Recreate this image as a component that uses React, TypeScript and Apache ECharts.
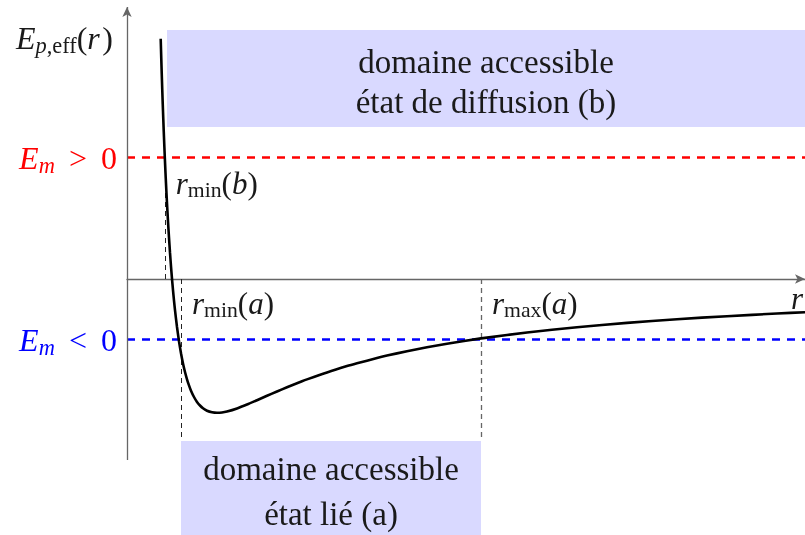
import React, { useEffect, useRef } from "react";
import * as echarts from "echarts";

// Potential curve E_p,eff(r) (r, E)
const curveR = [0.337, 0.34, 0.345, 0.35, 0.355, 0.36, 0.365, 0.37, 0.378, 0.385, 0.39, 0.4, 0.41, 0.42, 0.43, 0.44, 0.45, 0.46, 0.47, 0.48, 0.5, 0.52, 0.54, 0.56, 0.58, 0.6, 0.62, 0.64, 0.67, 0.7, 0.73, 0.76, 0.8, 0.85, 0.9, 0.95, 1.0, 1.1, 1.2, 1.3, 1.4, 1.5, 1.6, 1.75, 1.8, 2.0, 2.2, 2.3, 2.5, 2.6, 2.8, 3.0, 3.2, 3.54, 3.6, 4.0, 4.5, 5.0, 5.5, 6.0, 6.5, 6.78];
const curveE = [2.403, 2.298, 2.13, 1.971, 1.82, 1.678, 1.541, 1.412, 1.218, 1.06, 0.954, 0.756, 0.577, 0.413, 0.263, 0.127, 0.002, -0.111, -0.216, -0.312, -0.48, -0.622, -0.742, -0.844, -0.93, -1.003, -1.064, -1.117, -1.18, -1.229, -1.265, -1.293, -1.317, -1.333, -1.338, -1.335, -1.325, -1.294, -1.255, -1.212, -1.168, -1.125, -1.083, -1.023, -1.004, -0.934, -0.871, -0.843, -0.79, -0.766, -0.722, -0.683, -0.647, -0.594, -0.586, -0.535, -0.482, -0.439, -0.402, -0.372, -0.345, -0.332];

// Energy levels
const energyLevels = [1.22, -0.6]; // E_m > 0, E_m < 0
const energyRelations = [">", "<"];
// Turning points
const rMinB = 0.378;
const rMinA = 0.54;
const rMaxA = 3.54;
// Accessible domains [x1, y1, x2, y2]
const domainB = [0.4, 2.49, 6.78, 1.52];
const domainA = [0.54, -1.62, 3.54, -2.56];
const domainBText = ["domaine accessible", "état de diffusion (b)"];
const domainAText = ["domaine accessible", "état lié (a)"];
// Axes extents
const xMin = 0;
const xMax = 6.78;
const yMin = -2.56;
const yMax = 2.79;
const yAxisBottom = -1.81;
const yAxisTop = 2.72;
const domainBottomLine = -1.62;

const SERIF = "'Liberation Serif', 'DejaVu Serif', serif";
const TXT = "#1a1a1a";

const mathRich = (color: string, size: number) => ({
  v: { fontFamily: SERIF, fontStyle: "italic", fontSize: size, color },
  n: { fontFamily: SERIF, fontSize: size, color },
  s: { fontFamily: SERIF, fontSize: size * 0.7, color, padding: [size * 0.45, 0, 0, 0] },
  si: { fontFamily: SERIF, fontStyle: "italic", fontSize: size * 0.7, color, padding: [size * 0.45, 0, 0, 0] },
  g: { width: size * 0.44 },
  t: { width: size * 0.08 },
});

export default function App() {
  const ref = useRef<HTMLDivElement>(null);
  useEffect(() => {
    if (!ref.current) return;
    const chart = echarts.init(ref.current, null, { renderer: "svg" });
    const curve = curveR.map((r, i) => [r, curveE[i]]);
    const energyColors = ["#ff0000", "#0000ff"];
    chart.setOption({
      animation: false,
      grid: { left: 127, right: 0, top: 0, bottom: 0 },
      xAxis: {
        type: "value",
        min: xMin,
        max: xMax,
        axisLine: {
          show: true,
          onZero: true,
          symbol: ["none", "arrow"],
          symbolSize: [7, 10],
          lineStyle: { color: "#666", width: 1.3 },
        },
        axisTick: { show: false },
        axisLabel: { show: false },
        splitLine: { show: false },
      },
      yAxis: {
        type: "value",
        min: yMin,
        max: yMax,
        axisLine: { show: false },
        axisTick: { show: false },
        axisLabel: { show: false },
        splitLine: { show: false },
      },
      series: [
        {
          type: "line",
          data: [],
          silent: true,
          markArea: {
            silent: true,
            itemStyle: { color: "#d9d9ff", opacity: 1 },
            label: {
              show: true,
              position: "inside",
              fontFamily: SERIF,
              fontSize: 33,
              color: TXT,
              lineHeight: 40,
            },
            data: [
              [
                { coord: [domainB[0], domainB[1]], label: { formatter: domainBText.join("\n"), lineHeight: 40, offset: [0, 3] } },
                { coord: [domainB[2], domainB[3]] },
              ],
              [
                { coord: [domainA[0], domainA[1]], label: { formatter: domainAText.join("\n"), lineHeight: 45, offset: [0, 3] } },
                { coord: [domainA[2], domainA[3]] },
              ],
            ],
          },
          markLine: {
            silent: true,
            symbol: "none",
            label: { show: false },
            data: [
              [
                { coord: [xMin, energyLevels[0]], lineStyle: { color: energyColors[0], type: [8, 7], width: 2.6 } },
                { coord: [xMax, energyLevels[0]] },
              ],
              [
                { coord: [xMin, energyLevels[1]], lineStyle: { color: energyColors[1], type: [8, 7], width: 2.6 } },
                { coord: [xMax, energyLevels[1]] },
              ],
              [
                { coord: [rMinB, energyLevels[0]], lineStyle: { color: "#222", type: [5, 4], width: 1 } },
                { coord: [rMinB, -0.01] },
              ],
              [
                { coord: [rMinA, 0], lineStyle: { color: "#222", type: [5, 4], width: 1 } },
                { coord: [rMinA, domainBottomLine] },
              ],
              [
                { coord: [rMaxA, 0], lineStyle: { color: "#666", type: [5, 4], width: 1.3 } },
                { coord: [rMaxA, domainBottomLine] },
              ],
            ],
          },
        },
        {
          type: "line",
          data: [],
          silent: true,
          markLine: {
            silent: true,
            symbol: ["none", "arrow"],
            symbolSize: [7, 10],
            label: { show: false },
            lineStyle: { color: "#666", width: 1.3, type: "solid" },
            data: [[{ coord: [0, yAxisBottom] }, { coord: [0, yAxisTop] }]],
          },
        },
        {
          type: "line",
          data: curve,
          showSymbol: false,
          symbol: "none",
          smooth: 0.2,
          silent: true,
          z: 5,
          lineStyle: { color: "#000", width: 2.6 },
        },
      ],
    });

    const px = (x: number, y: number) => chart.convertToPixel({ gridIndex: 0 }, [x, y]) as number[];
    const o = px(0, 0);
    const top = px(0, yAxisTop);
    const eb = px(0, energyLevels[0]);
    const ea = px(0, energyLevels[1]);
    const pB = px(rMinB, energyLevels[0]);
    const pA = px(rMinA, 0);
    const pM = px(rMaxA, 0);
    const pEnd = px(xMax, 0);
    const mk = (x: number, y: number, text: string, align: string, color: string, size = 31) => ({
      type: "text",
      x,
      y,
      silent: true,
      style: { text, rich: mathRich(color, size), align, verticalAlign: "middle", fill: color },
    });
    const emText = (i: number) => `{v|E}{si|m}{g|}{n|${energyRelations[i]}}{g|}{n|0}`;
    chart.setOption({
      graphic: [
        mk(top[0] - 14, top[1] + 31, "{v|E}{si|p}{s|,eff}{n|(}{v|r}{t|}{n|)}", "right", TXT, 32),
        mk(eb[0] - 10, eb[1] + 1, emText(0), "right", "#ff0000", 32),
        mk(ea[0] - 10, ea[1] + 1, emText(1), "right", "#0000ff", 32),
        mk(pB[0] + 11, pB[1] + 26, "{v|r}{s|min}{n|(}{v|b}{n|)}", "left", TXT),
        mk(pA[0] + 11, pA[1] + 24, "{v|r}{s|min}{n|(}{v|a}{n|)}", "left", TXT),
        mk(pM[0] + 11, pM[1] + 24, "{v|r}{s|max}{n|(}{v|a}{n|)}", "left", TXT),
        mk(pEnd[0] - 14, o[1] + 19, "{v|r}", "left", TXT),
      ],
    });
    return () => chart.dispose();
  }, []);
  return <div ref={ref} style={{ position: "fixed", left: 0, top: 0, width: 805, height: 535 }} />;
}
